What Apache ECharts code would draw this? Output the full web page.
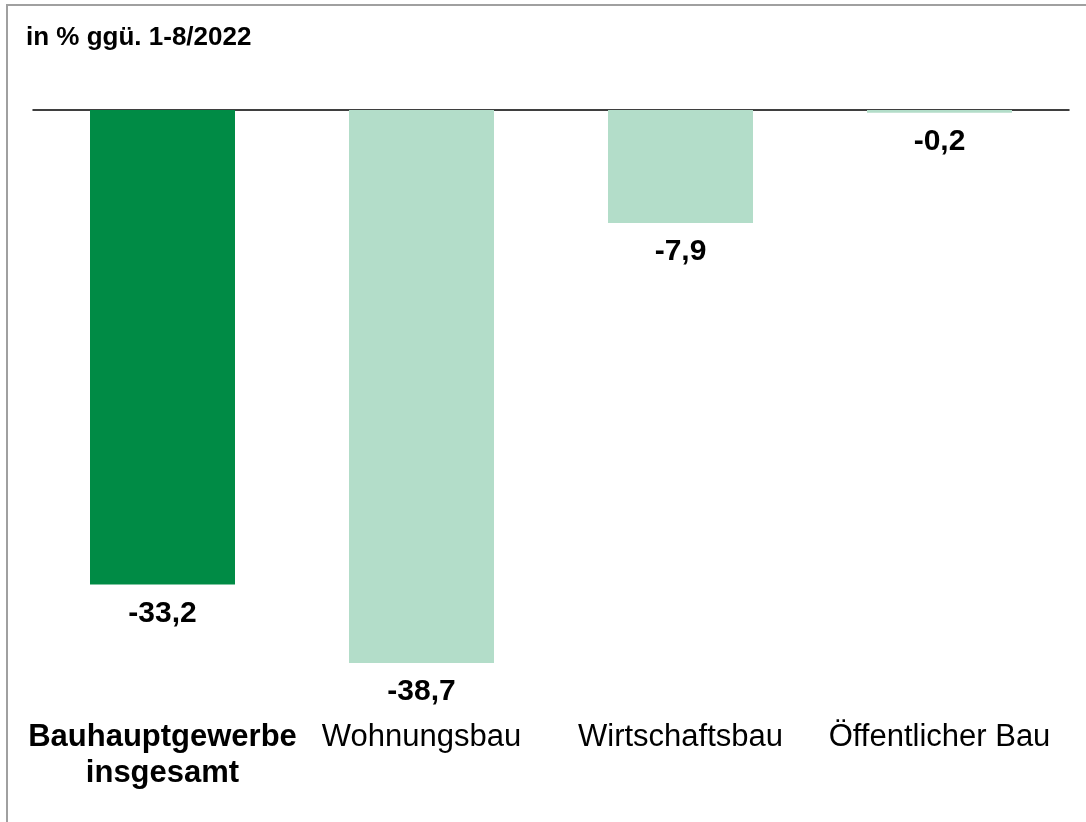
<!DOCTYPE html>
<html>
<head>
<meta charset="utf-8">
<script src="https://cdn.jsdelivr.net/npm/echarts@6/dist/echarts.min.js"></script>
<style>
html,body{margin:0;padding:0;background:#fff;}
#chart{width:1086px;height:822px;}
</style>
</head>
<body>
<div id="chart"></div>
<script>
const titleText = 'in % ggü. 1-8/2022';
const categories = ['Bauhauptgewerbe\ninsgesamt', 'Wohnungsbau', 'Wirtschaftsbau', 'Öffentlicher Bau'];
const values = [-33.2, -38.7, -7.9, -0.2];
const highlightIndex = 0;

const DARK = '#008B45';
const LIGHT = '#B3DDC9';
const FONT = '"Liberation Sans", Arial, Helvetica, sans-serif';

const chart = echarts.init(document.getElementById('chart'), null, {renderer: 'canvas'});
chart.setOption({
  animation: false,
  backgroundColor: '#ffffff',
  title: {
    text: titleText,
    left: 21, top: 20,
    textStyle: {fontFamily: FONT, fontSize: 26, fontWeight: 'bold', color: '#000'}
  },
  graphic: [{
    type: 'rect',
    shape: {x: 7, y: 5, width: 1200, height: 1000},
    style: {fill: 'none', stroke: '#a0a0a0', lineWidth: 2},
    silent: true
  }],
  grid: {left: 33, right: 17, top: 110, height: 571.6},
  xAxis: [{
    type: 'category',
    data: categories,
    position: 'top',
    axisLine: {show: true, onZero: false, lineStyle: {color: '#000', width: 1.5}},
    axisTick: {show: false},
    axisLabel: {show: false},
    splitLine: {show: false}
  }, {
    type: 'category',
    data: categories,
    position: 'bottom',
    axisLine: {show: false, onZero: false},
    axisTick: {show: false},
    splitLine: {show: false},
    axisLabel: {
      interval: 0,
      margin: 38,
      fontFamily: FONT,
      fontSize: 31,
      lineHeight: 36,
      color: '#000',
      formatter: function (v, i) {
        if (i === highlightIndex) {
          return v.split('\n').map(s => '{b|' + s + '}').join('\n');
        }
        return v;
      },
      rich: {
        b: {fontFamily: FONT, fontSize: 31, fontWeight: 'bold', lineHeight: 36, color: '#000'}
      }
    }
  }],
  yAxis: {
    type: 'value',
    min: -40, max: 0,
    show: false,
    splitLine: {show: false}
  },
  series: [{
    type: 'bar',
    xAxisIndex: 0,
    data: values,
    barWidth: 145,
    itemStyle: {
      color: p => p.dataIndex === highlightIndex ? DARK : LIGHT
    },
    label: {
      show: true,
      position: 'bottom',
      distance: 14,
      fontFamily: FONT,
      fontSize: 30,
      fontWeight: 'bold',
      color: '#000',
      formatter: p => p.value.toFixed(1).replace('.', ',')
    }
  }]
});
</script>
</body>
</html>
